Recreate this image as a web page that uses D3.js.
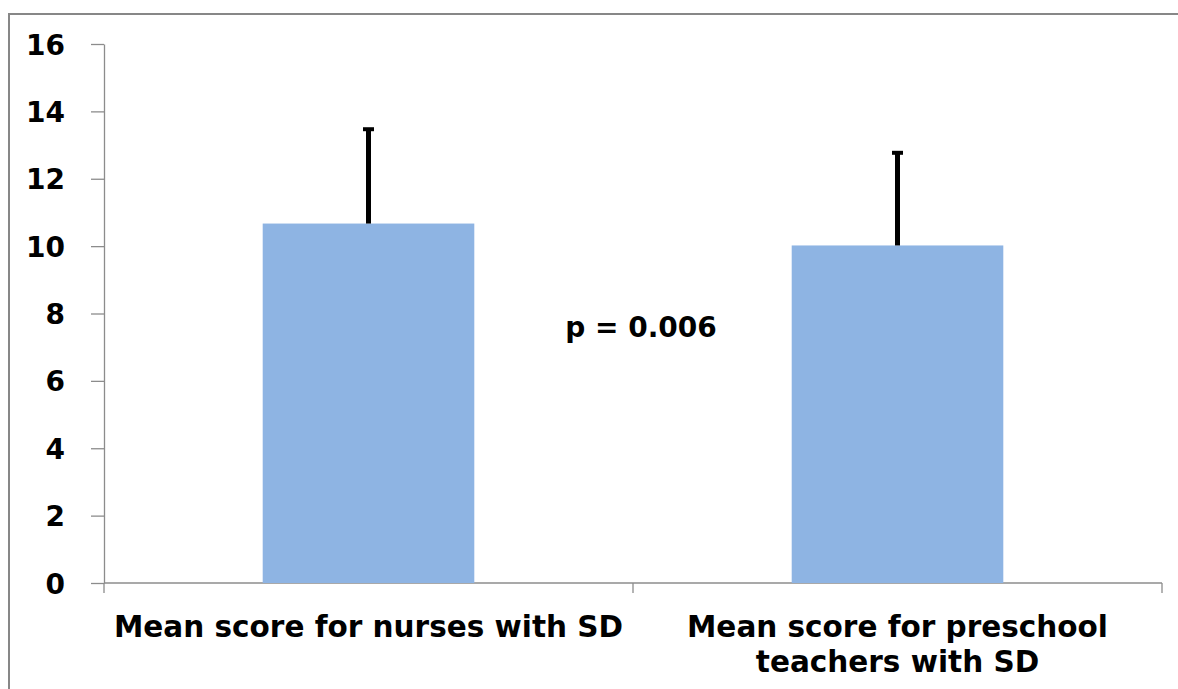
<!DOCTYPE html>
<html><head><meta charset="utf-8">
<script src="https://cdn.jsdelivr.net/npm/d3@7"></script>
<style>html,body{margin:0;padding:0;background:#fff;}svg{display:block;}</style>
</head><body>
<svg id="c" width="1178" height="689"></svg>
<script>
const categories = ["Mean score for nurses with SD", "Mean score for preschool teachers with SD"];
const categoryLines = [["Mean score for nurses with SD"], ["Mean score for preschool", "teachers with SD"]];
const means = [10.67, 10.02];
const sds = [2.83, 2.78];
const yTicks = [0, 2, 4, 6, 8, 10, 12, 14, 16];
const annotation = "p = 0.006";

const svg = d3.select("#c");
const font = "'DejaVu Sans', Verdana, sans-serif";
// outer frame
svg.append("rect").attr("x", 9).attr("y", 14).attr("width", 1180).attr("height", 690)
  .attr("fill", "none").attr("stroke", "#878787").attr("stroke-width", 2);

const pL = 104, pR = 1162, pT = 44, pB = 583;
const x = d3.scaleBand().domain(categories).range([pL, pR]).paddingInner(0).paddingOuter(0);
const y = d3.scaleLinear().domain([0, 16]).range([pB, pT]);
const barW = x.bandwidth() * 0.4;
const axisColor = "#8c8c8c";

// y axis
const yAxis = svg.append("g").attr("transform", `translate(${pL},0)`)
  .call(d3.axisLeft(y).tickValues(yTicks).tickSize(13).tickPadding(26).tickSizeOuter(0));
yAxis.select(".domain").attr("stroke", axisColor).attr("stroke-width", 1.3);
yAxis.selectAll(".tick line").attr("stroke", axisColor).attr("stroke-width", 1.3);
yAxis.selectAll(".tick text").attr("font-family", font).attr("font-weight", "bold")
  .attr("font-size", 28).attr("fill", "#000").attr("dy", "0.36em");
// extend vertical axis below baseline
svg.append("line").attr("x1", pL).attr("x2", pL).attr("y1", pB).attr("y2", pB + 10)
  .attr("stroke", axisColor).attr("stroke-width", 1.3);

// x axis line + category boundary ticks
svg.append("line").attr("x1", pL).attr("x2", pR).attr("y1", pB).attr("y2", pB)
  .attr("stroke", axisColor).attr("stroke-width", 1.3);
const bounds = categories.map(c => x(c) + x.bandwidth());
svg.selectAll(".ctick").data(bounds).enter().append("line")
  .attr("x1", d => d).attr("x2", d => d).attr("y1", pB).attr("y2", pB + 10)
  .attr("stroke", axisColor).attr("stroke-width", 1.3);

// bars
svg.selectAll(".bar").data(categories).enter().append("rect")
  .attr("x", (c) => x(c) + (x.bandwidth() - barW) / 2)
  .attr("y", (c, i) => y(means[i]))
  .attr("width", barW)
  .attr("height", (c, i) => y(0) - y(means[i]))
  .attr("fill", "#8EB4E3");

// error bars (upper only)
categories.forEach((c, i) => {
  const cx = x(c) + x.bandwidth() / 2;
  svg.append("line").attr("x1", cx).attr("x2", cx)
    .attr("y1", y(means[i])).attr("y2", y(means[i] + sds[i]))
    .attr("stroke", "#000").attr("stroke-width", 5);
  svg.append("line").attr("x1", cx - 5.5).attr("x2", cx + 5.5)
    .attr("y1", y(means[i] + sds[i]) + 1).attr("y2", y(means[i] + sds[i]) + 1)
    .attr("stroke", "#000").attr("stroke-width", 4);
});

// category labels
categories.forEach((c, i) => {
  const cx = x(c) + x.bandwidth() / 2;
  categoryLines[i].forEach((line, j) => {
    svg.append("text").attr("x", cx).attr("y", 637 + j * 35)
      .attr("text-anchor", "middle").attr("font-family", font).attr("font-weight", "bold")
      .attr("font-size", 29.5).attr("fill", "#000").text(line);
  });
});

// annotation
svg.append("text").attr("x", (x(categories[0]) + x.bandwidth() + 8)).attr("y", 337)
  .attr("text-anchor", "middle").attr("font-family", font).attr("font-weight", "bold")
  .attr("font-size", 28).attr("fill", "#000").text(annotation);
</script>
</body></html>
